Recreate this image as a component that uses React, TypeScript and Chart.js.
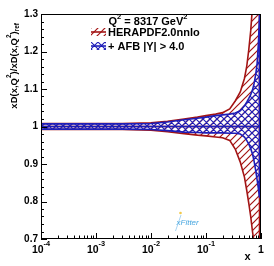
import { useEffect, useRef } from "react";
import { Chart, registerables } from "chart.js";

Chart.register(...registerables);

// ---- data ----
const xValues = [1e-4, 3e-4, 1e-3, 3e-3, 1e-2, 2e-2, 4e-2, 0.07, 0.1, 0.15, 0.2, 0.27, 0.34, 0.42, 0.5, 0.55, 0.6, 0.65, 0.7, 0.75, 0.8, 0.85, 0.9, 0.94];

const heraUpper = [1.008, 1.008, 1.008, 1.008, 1.01, 1.014, 1.02, 1.025, 1.029, 1.033, 1.037, 1.047, 1.068, 1.092, 1.128, 1.16, 1.205, 1.255, 1.32, 1.4, 1.5, 1.6, 1.72, 1.85];
const heraLower = [0.992, 0.992, 0.992, 0.992, 0.99, 0.986, 0.981, 0.977, 0.975, 0.972, 0.97, 0.963, 0.94, 0.905, 0.865, 0.83, 0.795, 0.76, 0.72, 0.69, 0.63, 0.55, 0.45, 0.35];
const heraCentral = [1, 1, 1, 1, 1, 1, 1, 1, 1, 1, 1, 1, 1, 1, 1, 1, 1, 1, 1, 1, 1, 1, 1, 1];

const afbUpper = [1.007, 1.007, 1.007, 1.007, 1.008, 1.012, 1.018, 1.022, 1.025, 1.029, 1.031, 1.033, 1.036, 1.042, 1.055, 1.065, 1.075, 1.085, 1.097, 1.115, 1.138, 1.168, 1.225, 1.3];
const afbLower = [0.993, 0.993, 0.993, 0.993, 0.992, 0.989, 0.985, 0.984, 0.983, 0.983, 0.983, 0.982, 0.982, 0.98, 0.972, 0.963, 0.953, 0.941, 0.927, 0.907, 0.883, 0.858, 0.832, 0.81];
const afbCentral = [1, 1, 1, 1, 1, 1, 1, 1, 1, 1, 1, 1, 1, 1, 1, 1, 1, 1, 1, 1, 1, 1, 1, 1];

const yTickValues = [0.7, 0.8, 0.9, 1, 1.1, 1.2, 1.3];
const yTickLabels = ["0.7", "0.8", "0.9", "1", "1.1", "1.2", "1.3"];
const xTickValues = [1e-4, 1e-3, 1e-2, 1e-1, 1];
const xTickBases = ["10", "10", "10", "10", "1"];
const xTickExponents = ["-4", "-3", "-2", "-1", ""];

const legendLabels = ["HERAPDF2.0nnlo", "+ AFB |Y| > 4.0"];
const scaleText = ["Q", "2", " = 8317 GeV", "2"];

// ---- styles ----
const FONT = '"Liberation Sans", Arial, Helvetica, sans-serif';
const RED = "#a31414";
const BLUE = "#1e1eb8";

type Seg = { t: string; sup?: boolean; sub?: boolean };

function fontOf(size: number, italic = false, bold = true) {
  return `${italic ? "italic " : ""}${bold ? "bold " : ""}${size}px ${FONT}`;
}

function richWidth(ctx: CanvasRenderingContext2D, segs: Seg[], size: number, small: number) {
  let w = 0;
  for (const s of segs) {
    ctx.font = fontOf(s.sup || s.sub ? small : size);
    w += ctx.measureText(s.t).width;
  }
  return w;
}

function drawRich(
  ctx: CanvasRenderingContext2D,
  segs: Seg[],
  x: number,
  y: number,
  size: number,
  align: "left" | "center" | "right",
  smallScale = 0.68,
  raise = 0.55
) {
  const small = size * smallScale;
  const w = richWidth(ctx, segs, size, small);
  let cx = align === "left" ? x : align === "center" ? x - w / 2 : x - w;
  ctx.textAlign = "left";
  ctx.textBaseline = "alphabetic";
  for (const s of segs) {
    const sz = s.sup || s.sub ? small : size;
    ctx.font = fontOf(sz);
    const dy = s.sup ? -size * raise : s.sub ? size * 0.3 : 0;
    ctx.fillText(s.t, cx, y + dy);
    cx += ctx.measureText(s.t).width;
  }
  return w;
}

function makeHatch(main: CanvasRenderingContext2D, color: string, size: number, cross: boolean, lw: number) {
  const c = document.createElement("canvas");
  c.width = size;
  c.height = size;
  const g = c.getContext("2d")!;
  g.strokeStyle = color;
  g.lineWidth = lw;
  g.beginPath();
  g.moveTo(0, size);
  g.lineTo(size, 0);
  g.moveTo(-size / 2, size / 2);
  g.lineTo(size / 2, -size / 2);
  g.moveTo(size / 2, size * 1.5);
  g.lineTo(size * 1.5, size / 2);
  if (cross) {
    g.moveTo(0, 0);
    g.lineTo(size, size);
    g.moveTo(-size / 2, size / 2);
    g.lineTo(size / 2, size * 1.5);
    g.moveTo(size / 2, -size / 2);
    g.lineTo(size * 1.5, size / 2);
  }
  g.stroke();
  return main.createPattern(c, "repeat")!;
}

function bandPolygon(xs: number[], up: number[], lo: number[]) {
  const pts = xs.map((x, i) => ({ x, y: up[i] }));
  for (let i = xs.length - 1; i >= 0; i--) pts.push({ x: xs[i], y: lo[i] });
  pts.push({ x: xs[0], y: up[0] });
  return pts;
}

export default function App() {
  const ref = useRef<HTMLCanvasElement>(null);

  useEffect(() => {
    const canvas = ref.current!;
    const mctx = canvas.getContext("2d")!;
    const redPat = makeHatch(mctx, RED, 7, false, 1.2);
    const bluePat = makeHatch(mctx, BLUE, 7, true, 1.1);

    const rootPlugin = {
      id: "rootStyle",
      afterDatasetsDraw(chart: any) {
        const { ctx, chartArea: a, scales } = chart;
        const xs = scales.x;
        const ys = scales.y;
        ctx.save();
        // frame
        ctx.strokeStyle = "#000";
        ctx.lineWidth = 1;
        ctx.strokeRect(a.left + 0.5, a.top + 0.5, a.right - a.left - 1, a.bottom - a.top - 1);
        // y ticks (inside)
        ctx.beginPath();
        for (let k = 0; k <= 30; k++) {
          const v = 0.7 + k * 0.02;
          const py = Math.round(ys.getPixelForValue(v)) + 0.5;
          const len = k % 5 === 0 ? 6 : 3;
          ctx.moveTo(a.left, py);
          ctx.lineTo(a.left + len, py);
        }
        // x ticks (inside)
        for (let d = -4; d <= 0; d++) {
          const major = Math.pow(10, d);
          const px = Math.round(xs.getPixelForValue(major)) + 0.5;
          ctx.moveTo(px, a.bottom);
          ctx.lineTo(px, a.bottom - 6);
          if (d < 0) {
            for (let m = 2; m <= 9; m++) {
              const pm = Math.round(xs.getPixelForValue(m * major)) + 0.5;
              ctx.moveTo(pm, a.bottom);
              ctx.lineTo(pm, a.bottom - 3.5);
            }
          }
        }
        ctx.stroke();

        // x tick labels with superscripts
        ctx.fillStyle = "#000";
        xTickValues.forEach((v, i) => {
          const px = xs.getPixelForValue(v);
          const segs: Seg[] = [{ t: xTickBases[i] }];
          if (xTickExponents[i]) segs.push({ t: xTickExponents[i], sup: true });
          drawRich(ctx, segs, px, 253, 10.5, "center", 0.7, 0.62);
        });
        // x axis title
        drawRich(ctx, [{ t: "x" }], 247.5, 260, 11, "center");

        // y axis title (rotated)
        const ySegs: Seg[] = [
          { t: "xD(x,Q" },
          { t: "2", sup: true },
          { t: ")/xD(x,Q" },
          { t: "2", sup: true },
          { t: ")" },
          { t: "ref", sub: true },
        ];
        const ts = 9.5;
        const tw = richWidth(ctx, ySegs, ts, ts * 0.68);
        ctx.save();
        ctx.translate(16.5, 23 + tw);
        ctx.rotate(-Math.PI / 2);
        drawRich(ctx, ySegs, 0, 0, ts, "left");
        ctx.restore();

        // legend header
        drawRich(
          ctx,
          [{ t: scaleText[0] }, { t: scaleText[1], sup: true }, { t: scaleText[2] }, { t: scaleText[3], sup: true }],
          148,
          25,
          11,
          "center"
        );
        // legend entries
        const entries = [
          { pat: redPat, col: RED, y: 32 },
          { pat: bluePat, col: BLUE, y: 46 },
        ];
        entries.forEach((e, i) => {
          ctx.fillStyle = e.pat;
          ctx.fillRect(91, e.y - 4, 15, 8);
          ctx.strokeStyle = e.col;
          ctx.lineWidth = 1.6;
          ctx.beginPath();
          ctx.moveTo(91, e.y);
          ctx.lineTo(106, e.y);
          ctx.stroke();
          ctx.fillStyle = "#000";
          drawRich(ctx, [{ t: legendLabels[i] }], 108, e.y + 4, 11, "left");
        });

        // xFitter watermark
        ctx.strokeStyle = "#a8d4f2";
        ctx.lineWidth = 1;
        ctx.beginPath();
        ctx.moveTo(181, 215);
        ctx.lineTo(175.5, 231);
        ctx.stroke();
        ctx.fillStyle = "#f2c84a";
        ctx.beginPath();
        ctx.arc(180.5, 213, 1.3, 0, Math.PI * 2);
        ctx.fill();
        ctx.fillStyle = "#4aa8e0";
        ctx.font = fontOf(8, true, false);
        ctx.textAlign = "left";
        ctx.textBaseline = "alphabetic";
        ctx.fillText("xFitter", 176.5, 225);
        ctx.restore();
      },
    };

    const chart = new Chart(canvas, {
      type: "line",
      data: {
        datasets: [
          {
            label: "AFB band",
            data: bandPolygon(xValues, afbUpper, afbLower),
            borderColor: BLUE,
            borderWidth: 1.6,
            backgroundColor: bluePat,
            fill: "shape",
            pointRadius: 0,
            tension: 0,
            order: 0,
          },
          {
            label: "AFB central",
            data: xValues.map((x, i) => ({ x, y: afbCentral[i] })),
            borderColor: BLUE,
            borderWidth: 1.6,
            fill: false,
            pointRadius: 0,
            order: 0,
          },
          {
            label: "HERA band",
            data: bandPolygon(xValues, heraUpper, heraLower),
            borderColor: RED,
            borderWidth: 1.6,
            backgroundColor: redPat,
            fill: "shape",
            pointRadius: 0,
            tension: 0,
            order: 1,
          },
          {
            label: "HERA central",
            data: xValues.map((x, i) => ({ x, y: heraCentral[i] })),
            borderColor: RED,
            borderWidth: 1.6,
            fill: false,
            pointRadius: 0,
            order: 1,
          },
        ],
      } as any,
      options: {
        responsive: false,
        animation: false,
        devicePixelRatio: 1,
        events: [],
        layout: { padding: { top: 14, right: 13, left: 0, bottom: 0 } },
        plugins: {
          legend: { display: false },
          tooltip: { enabled: false },
          title: { display: false },
        },
        scales: {
          x: {
            type: "logarithmic",
            min: 1e-4,
            max: 1,
            ticks: { display: false },
            grid: { display: false, drawTicks: false },
            border: { display: false },
            afterFit: (s: any) => {
              s.height = 27;
            },
          },
          y: {
            type: "linear",
            min: 0.7,
            max: 1.3,
            afterBuildTicks: (s: any) => {
              s.ticks = yTickValues.map((v) => ({ value: v }));
            },
            ticks: {
              autoSkip: false,
              padding: 3,
              color: "#000",
              font: { family: FONT, size: 10, weight: "bold" },
              callback: (_v: any, i: number) => yTickLabels[i],
            },
            grid: { display: false, drawTicks: false },
            border: { display: false },
            afterFit: (s: any) => {
              s.width = 41;
            },
          },
        },
      } as any,
      plugins: [rootPlugin],
    });

    return () => chart.destroy();
  }, []);

  return (
    <div style={{ position: "absolute", left: 0, top: 0, width: 274, height: 266, background: "#fff" }}>
      <canvas ref={ref} width={274} height={266} style={{ width: 274, height: 266, display: "block" }} />
    </div>
  );
}
